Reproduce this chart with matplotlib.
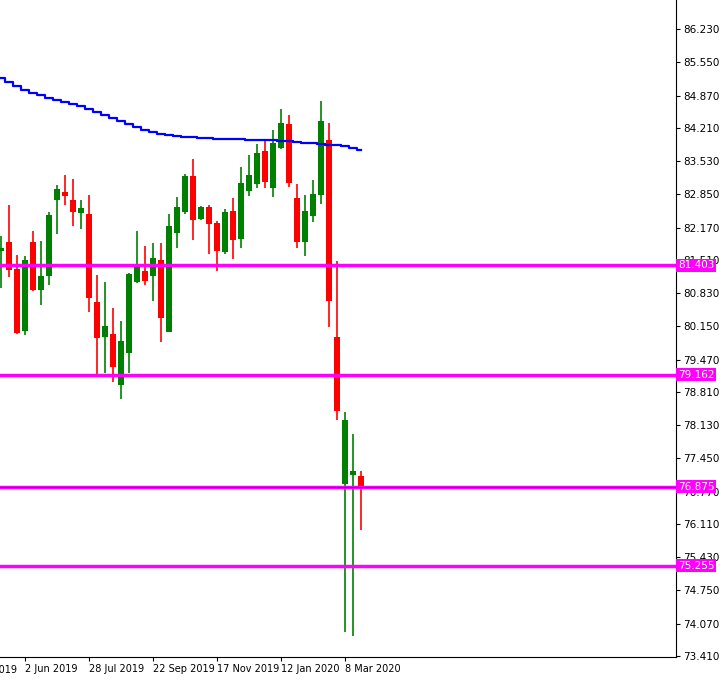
import matplotlib
matplotlib.use("Agg")
import matplotlib.pyplot as plt
import matplotlib.transforms as mtransforms
import datetime as dt

opens  = [81.697,81.874,81.322,80.062,81.874,80.893,81.186,82.740,82.897,82.733,82.474,82.447,80.648,79.939,79.993,78.957,79.612,81.063,81.282,81.186,81.506,80.041,82.065,82.495,83.224,82.352,82.590,82.263,81.677,82.508,81.943,82.924,83.067,83.735,82.985,83.803,84.287,82.774,81.881,82.413,82.842,83.960,79.932,76.927,77.117,77.090]
closes = [81.759,81.309,80.021,81.506,80.893,81.179,82.427,82.958,82.822,82.495,82.570,80.736,79.918,80.157,79.326,79.850,81.227,81.363,81.084,81.547,80.327,82.202,82.590,83.224,82.331,82.590,82.249,81.697,82.488,81.922,83.081,83.244,83.694,83.108,83.899,84.308,83.088,81.881,82.508,82.856,84.349,80.675,78.419,78.235,77.199,76.865]
highs  = [81.997,82.631,81.609,81.588,82.099,81.895,82.488,83.040,83.244,83.163,82.733,82.836,81.200,81.057,80.525,80.266,81.247,82.099,81.800,81.854,81.854,82.447,82.795,83.272,83.572,82.620,82.631,82.300,82.549,82.774,83.408,83.653,83.878,83.960,84.165,84.594,84.471,83.060,82.836,83.142,84.758,84.308,81.486,78.399,77.949,77.192]
lows   = [80.941,81.166,80.000,79.980,80.873,80.593,81.002,82.045,82.638,82.209,82.147,80.450,79.121,79.203,79.019,78.658,79.203,81.043,80.995,80.675,79.837,80.041,81.759,82.454,81.922,82.331,81.636,81.288,81.636,81.534,81.759,82.815,82.979,82.979,82.801,83.780,83.006,81.759,81.595,82.290,82.658,80.143,78.235,73.900,73.818,75.986]
ma = [85.228,85.146,85.065,84.983,84.921,84.880,84.819,84.778,84.737,84.696,84.655,84.594,84.533,84.472,84.410,84.349,84.288,84.226,84.165,84.124,84.083,84.063,84.042,84.022,84.012,84.001,83.995,83.981,83.981,83.981,83.981,83.970,83.960,83.960,83.955,83.940,83.930,83.919,83.909,83.899,83.878,83.868,83.858,83.838,83.797,83.756]
levels = [81.403, 79.162, 76.875, 75.255]
bid = 76.865
yticks = [86.230,85.550,84.870,84.210,83.530,82.850,82.170,81.510,80.830,80.150,79.470,78.810,78.130,77.450,76.770,76.110,75.430,74.750,74.070,73.410]
last_date = dt.date(2020, 3, 22)

n = len(opens)

fig = plt.figure(figsize=(7.22, 6.81), dpi=100)
ax = fig.add_axes([0, 24/681, 676/722, 657/681])
for i in range(n):
    up = closes[i] >= opens[i]
    c = "#008000" if up else "#ff0000"
    ax.vlines(i, lows[i], highs[i], color=c, lw=1.2)
    lo, hi = sorted([opens[i], closes[i]])
    ax.bar(i, max(hi - lo, 0.03), bottom=lo, width=0.66, color=c, lw=0)
ax.plot(range(n), ma, color="#0000ff", lw=1.6, drawstyle="steps-mid")
for lv in levels:
    ax.axhline(lv, color="#ff00ff", lw=2.5)
ax.axhline(bid, color="#0000ff", lw=0.8)

ax.yaxis.tick_right()
ax.set_yticks(yticks)
ax.set_yticklabels([f"{v:.3f}" for v in yticks], fontsize=7.5)
ax.tick_params(axis="y", length=3, pad=2)
xt = list(range(-5, n, 8))
labels = []
for i in xt:
    d = last_date - dt.timedelta(weeks=n - 1 - i)
    labels.append(f"{d.day} {d.strftime('%b %Y')}")
ax.set_xticks(xt[1:])
ax.set_xticklabels(labels[1:], fontsize=7, ha="left")
off = mtransforms.ScaledTranslation(2/100, 0, fig.dpi_scale_trans)
for lab in ax.get_xticklabels():
    lab.set_transform(lab.get_transform() + off)
ax.tick_params(axis="x", length=3, pad=2)
ax.set_xlim(-0.125, 84.375)
ax.set_ylim(73.39, 86.823)
# partially visible first label
ax.text(xt[0], -0.012, labels[0], transform=ax.get_xaxis_transform() + off,
        fontsize=7, ha="left", va="top", clip_on=False)
for s in ["top", "left"]:
    ax.spines[s].set_visible(False)
for lv in levels:
    ax.text(1.003, lv, f"{lv:.3f}", transform=ax.get_yaxis_transform(), color="white",
            fontsize=7.5, va="center", ha="left", zorder=5,
            bbox=dict(boxstyle="square,pad=0.15", fc="#ff00ff", ec="none"))
fig.savefig("out.png", dpi=100)
